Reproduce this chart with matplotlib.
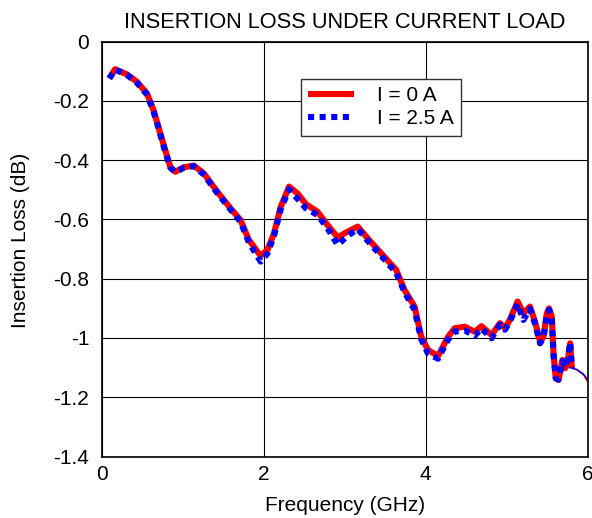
import matplotlib
matplotlib.use('Agg')
import matplotlib.pyplot as plt

# frequency (GHz) for the thick part of the traces
freq = [0.094, 0.165, 0.31, 0.434, 0.558, 0.64, 0.723, 0.785, 0.847, 0.909,
        1.012, 1.136, 1.26, 1.426, 1.59, 1.715, 1.818, 1.963, 2.046, 2.128,
        2.211, 2.314, 2.418, 2.521, 2.666, 2.79, 2.914, 3.038, 3.162, 3.286,
        3.451, 3.637, 3.74, 3.864, 3.947, 4.03, 4.154, 4.278, 4.36, 4.484,
        4.608, 4.69, 4.815, 4.918, 4.98, 5.04, 5.137, 5.208, 5.29, 5.352,
        5.414, 5.456, 5.497, 5.525, 5.559, 5.58, 5.608, 5.642, 5.691, 5.724,
        5.757, 5.786, 5.807]

loss_0A = [-0.124, -0.093, -0.110, -0.135, -0.174, -0.231, -0.309, -0.366, -0.422, -0.439,
           -0.424, -0.418, -0.444, -0.506, -0.562, -0.602, -0.669, -0.723, -0.703, -0.647,
           -0.557, -0.489, -0.512, -0.548, -0.574, -0.619, -0.660, -0.641, -0.624, -0.664,
           -0.714, -0.770, -0.838, -0.894, -0.996, -1.040, -1.061, -0.996, -0.967, -0.962,
           -0.979, -0.960, -0.990, -0.950, -0.967, -0.939, -0.877, -0.917, -0.894, -0.945,
           -1.012, -0.996, -0.917, -0.900, -0.928, -1.052, -1.136, -1.142, -1.074, -1.102,
           -1.074, -1.018, -1.102]

loss_25A = [-0.124, -0.094, -0.112, -0.138, -0.178, -0.235, -0.312, -0.372, -0.425, -0.440,
            -0.426, -0.420, -0.448, -0.510, -0.566, -0.608, -0.678, -0.742, -0.715, -0.655,
            -0.565, -0.498, -0.530, -0.562, -0.585, -0.630, -0.686, -0.655, -0.632, -0.672,
            -0.722, -0.780, -0.845, -0.905, -1.005, -1.052, -1.070, -1.005, -0.978, -0.975,
            -0.992, -0.968, -1.001, -0.955, -0.972, -0.945, -0.885, -0.939, -0.902, -0.952,
            -1.018, -1.000, -0.925, -0.905, -0.935, -1.055, -1.136, -1.140, -1.078, -1.100,
            -1.070, -1.015, -1.102]

# thin tail above 5.8 GHz
freq_tail = [5.807, 5.869, 5.952, 6.0]
tail_0A = [-1.102, -1.108, -1.125, -1.147]
tail_25A = [-1.102, -1.106, -1.122, -1.140]

plt.rcParams['font.family'] = ['Liberation Sans', 'DejaVu Sans']
plt.rcParams['font.size'] = 15

fig = plt.figure(figsize=(5.92, 5.18), dpi=100)
ax = fig.add_axes([0.1718, 0.1187, 0.8206, 0.8008])

ax.plot(freq, loss_0A, color='#ff0000', lw=4.4, solid_capstyle='butt', label='I = 0 A')
ax.plot(freq, loss_25A, color='#0000ff', lw=4.4, dashes=(1.0, 0.9),
        dash_capstyle='butt', label='I = 2.5 A')
ax.plot(freq_tail, tail_0A, color='#ff0000', lw=1.0)
ax.plot(freq_tail, tail_25A, color='#0000ff', lw=1.0)

ax.set_xlim(0, 6)
ax.set_ylim(-1.4, 0)
ax.set_xticks([0, 2, 4, 6])
ax.set_yticks([0, -0.2, -0.4, -0.6, -0.8, -1, -1.2, -1.4])
ax.set_yticklabels(['0', '-0.2', '-0.4', '-0.6', '-0.8', '-1', '-1.2', '-1.4'])
ax.tick_params(length=0, labelsize=15)
ax.tick_params(axis='y', pad=9)
ax.tick_params(axis='x', pad=6)
ax.grid(True, color='black', lw=0.8)
ax.set_axisbelow(True)
for sp in ax.spines.values():
    sp.set_linewidth(1.2)

ax.set_title('INSERTION LOSS UNDER CURRENT LOAD', fontsize=15.7, pad=10)
ax.set_xlabel('Frequency (GHz)', labelpad=9)
ax.set_ylabel('Insertion Loss (dB)')
ax.yaxis.set_label_coords(-0.148, 0.52)

leg = ax.legend(loc='upper left', bbox_to_anchor=(0.41, 0.91), fancybox=False,
                framealpha=1, edgecolor='#333333', handlelength=2.2,
                borderpad=0.35, labelspacing=0.2, handletextpad=1.1,
                borderaxespad=0, fontsize=15)
leg.get_frame().set_linewidth(1.0)

fig.savefig('out.png', dpi=100)
